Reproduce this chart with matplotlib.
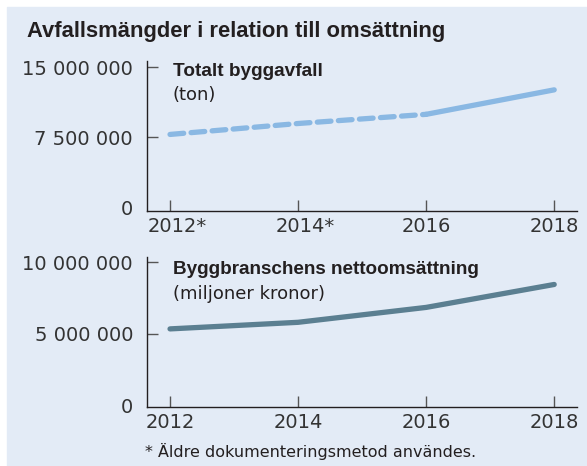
import matplotlib.pyplot as plt
from matplotlib.transforms import ScaledTranslation

# data
years = [2012, 2014, 2016, 2018]
waste_labels = ["2012*", "2014*", "2016", "2018"]
waste_tons = [7_790_000, 8_960_000, 9_940_000, 12_560_000]
turnover_labels = ["2012", "2014", "2016", "2018"]
turnover_mkr = [5_350_000, 5_810_000, 6_850_000, 8_450_000]

BG = "#e3ebf6"
TEXT = "#231f20"
LIGHT_BLUE = "#8ab8e3"
STEEL = "#5b7f91"
BOLD_FONT = ["Liberation Sans", "DejaVu Sans"]

plt.rcParams["font.family"] = ["DejaVu Sans"]


def fmt(v):
    return f"{v:,}".replace(",", " ")


def style_axes(ax, yticks, ylim, xlabels):
    ax.set_facecolor(BG)
    for side in ("top", "right"):
        ax.spines[side].set_visible(False)
    for side in ("left", "bottom"):
        ax.spines[side].set_color(TEXT)
        ax.spines[side].set_linewidth(1.0)
    ax.set_xlim(2011.64, 2018.36)
    ax.set_ylim(*ylim)
    ax.set_xticks(years)
    ax.set_xticklabels(xlabels)
    ax.set_yticks(yticks)
    ax.set_yticklabels([fmt(v) for v in yticks])
    ax.tick_params(axis="both", direction="in", length=8, width=1.0,
                   color="#555555", labelsize=14, labelcolor="#333333")
    ax.tick_params(axis="y", pad=10)
    ax.tick_params(axis="x", pad=4)
    # no tick mark at zero
    ax.yaxis.get_major_ticks()[0].tick1line.set_visible(False)
    for lab in ax.get_xticklabels():
        if lab.get_text().endswith("*"):
            lab.set_transform(lab.get_transform()
                              + ScaledTranslation(5 / 72, 0, fig.dpi_scale_trans))


fig = plt.figure(figsize=(5.87, 4.66), dpi=100)
fig.patch.set_facecolor("white")
fig.patches.append(plt.Rectangle((7 / 587, 0), 1, 1 - 7 / 466,
                                 transform=fig.transFigure, color=BG, zorder=-10))

ax1 = fig.add_axes([0.2504, 0.5472, 0.733, 0.322])
ax2 = fig.add_axes([0.2504, 0.1266, 0.733, 0.322])

style_axes(ax1, [0, 7_500_000, 15_000_000], (-400_000, 15_650_000), waste_labels)
style_axes(ax2, [0, 5_000_000, 10_000_000], (-100_000, 10_370_000), turnover_labels)

# older method -> dashed, newer -> solid
ax1.plot(years[:3], waste_tons[:3], color=LIGHT_BLUE, lw=3.8,
         dashes=(2.6, 1.4), dash_capstyle="round", solid_capstyle="round")
ax1.plot(years[2:], waste_tons[2:], color=LIGHT_BLUE, lw=3.8,
         solid_capstyle="round")
ax2.plot(years, turnover_mkr, color=STEEL, lw=3.8, solid_capstyle="round")

ax1.text(173 / 587, 1 - 71 / 466, "Totalt byggavfall", transform=fig.transFigure,
         fontsize=13.7, fontweight="bold", family=BOLD_FONT, color=TEXT,
         va="center")
ax1.text(173 / 587, 1 - 95 / 466, "(ton)", transform=fig.transFigure,
         fontsize=13, color=TEXT, va="center")
ax2.text(173 / 587, 1 - 270 / 466, "Byggbranschens nettoomsättning",
         transform=fig.transFigure, fontsize=13.6, fontweight="bold",
         family=BOLD_FONT, color=TEXT, va="center")
ax2.text(173 / 587, 1 - 294 / 466, "(miljoner kronor)", transform=fig.transFigure,
         fontsize=13, color=TEXT, va="center")

fig.text(27 / 587, 1 - 32 / 466, "Avfallsmängder i relation till omsättning",
         fontsize=15.8, fontweight="bold", family=BOLD_FONT, color=TEXT,
         va="center")
fig.text(145 / 587, 1 - 451 / 466, "* Äldre dokumenteringsmetod användes.",
         fontsize=11.5, color=TEXT, va="center")

fig.savefig("out.png", dpi=100, facecolor=fig.get_facecolor())
